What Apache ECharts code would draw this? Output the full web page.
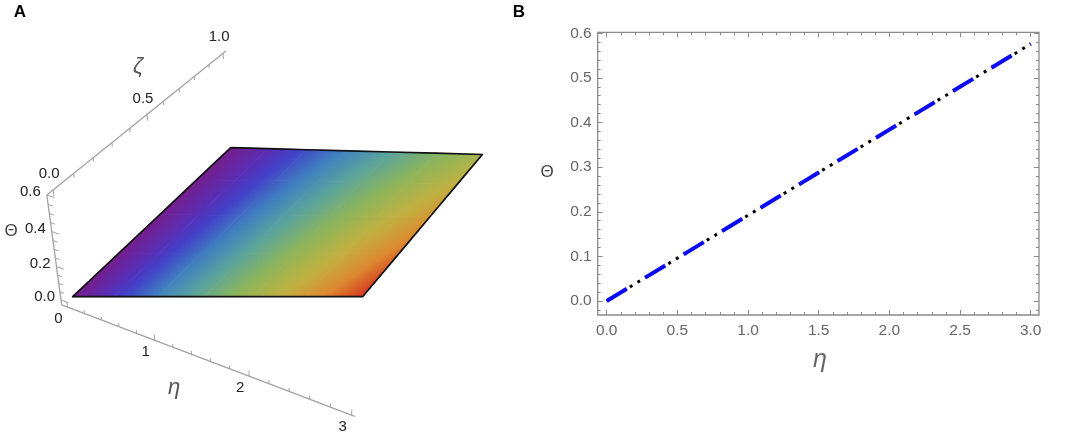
<!DOCTYPE html>
<html><head><meta charset="utf-8">
<script src="https://cdn.jsdelivr.net/npm/echarts@6/dist/echarts.min.js"></script>
<style>html,body{margin:0;padding:0;background:#fff}#c{width:1065px;height:437px}</style>
</head><body><div id="c"></div>
<script>
// ---------------- data ----------------
// Panel A: surface Θ(η, ζ)
const surfEta = [0, 0.5, 1, 1.5, 2, 2.5, 3];
const surfZeta = [0, 0.25, 0.5, 0.75, 1];
const surfTheta = [
  [0, 0.096, 0.192, 0.288, 0.385, 0.481, 0.577],
  [0, 0.088, 0.177, 0.265, 0.354, 0.442, 0.530],
  [0, 0.081, 0.161, 0.242, 0.322, 0.403, 0.484],
  [0, 0.073, 0.146, 0.218, 0.291, 0.364, 0.437],
  [0, 0.065, 0.130, 0.195, 0.260, 0.325, 0.390]
];
const etaTicks3D = [0, 1, 2, 3];
const zetaTicks3D = [0, 0.5, 1];
const thetaTicks3D = [0, 0.2, 0.4, 0.6];
// Panel B: Θ(η)
const lineEta = [0, 0.5, 1, 1.5, 2, 2.5, 3];
const lineTheta = [0, 0.096, 0.192, 0.288, 0.384, 0.480, 0.576];
const xTicksB = [0, 0.5, 1, 1.5, 2, 2.5, 3];
const xMinorB = [0.1, 0.2, 0.3, 0.4, 0.6, 0.7, 0.8, 0.9, 1.1, 1.2, 1.3, 1.4, 1.6, 1.7, 1.8, 1.9, 2.1, 2.2, 2.3, 2.4, 2.6, 2.7, 2.8, 2.9];
const yTicksB = [0, 0.1, 0.2, 0.3, 0.4, 0.5, 0.6];
const yMinorB = [-0.02, 0.02, 0.04, 0.06, 0.08, 0.12, 0.14, 0.16, 0.18, 0.22, 0.24, 0.26, 0.28, 0.32, 0.34, 0.36, 0.38, 0.42, 0.44, 0.46, 0.48, 0.52, 0.54, 0.56, 0.58];

// ---------------- view / style ----------------
const FONT = "'Liberation Sans', Arial, sans-serif";
const VIEW = { o: [72.7, 296.7], ex: [81, 20.1], ey: [208.5, -116.7], ez: [-28.5, -194.8], w: [-0.038, 0.219, -0.106] };
const BOX = { eta: [-0.07, 3.03], zeta: [-0.03, 1.02], theta: [-0.03, 0.6] };
const AXIS_COLOR = '#a2a2a2';
const RAINBOW = [[0, '#751E8C'], [0.12, '#5A2DB4'], [0.2, '#4240C8'], [0.32, '#4080C0'], [0.45, '#5BA49C'], [0.6, '#8DB55A'], [0.75, '#C1B140'], [0.88, '#DC8A30'], [1, '#D4361F']];

function proj(e, z, t) {
  const w = 1 + VIEW.w[0] * e + VIEW.w[1] * z + VIEW.w[2] * t;
  return [(VIEW.o[0] + e * VIEW.ex[0] + z * VIEW.ey[0] + t * VIEW.ez[0]) / w,
          (VIEW.o[1] + e * VIEW.ex[1] + z * VIEW.ey[1] + t * VIEW.ez[1]) / w];
}
function hex(c) { return [parseInt(c.slice(1, 3), 16), parseInt(c.slice(3, 5), 16), parseInt(c.slice(5, 7), 16)]; }
function rainbow(v) {
  v = Math.max(0, Math.min(1, v));
  for (let k = 1; k < RAINBOW.length; k++) {
    if (v <= RAINBOW[k][0]) {
      const a = RAINBOW[k - 1], b = RAINBOW[k];
      const f = (v - a[0]) / (b[0] - a[0]);
      const ca = hex(a[1]), cb = hex(b[1]);
      return 'rgb(' + ca.map((x, i) => Math.round(x + (cb[i] - x) * f)).join(',') + ')';
    }
  }
  return RAINBOW[RAINBOW.length - 1][1];
}
const thetaMax = Math.max(...surfTheta.map(r => Math.max(...r)));
const nEta = surfEta.length, nZeta = surfZeta.length;
const cells = [];
for (let j = 0; j < nZeta - 1; j++) for (let i = 0; i < nEta - 1; i++) cells.push([i, j]);

function renderCell(params, api) {
  const i = api.value(0), j = api.value(1);
  const corners = [[i, j], [i + 1, j], [i + 1, j + 1], [i, j + 1]];
  const pts = corners.map(([a, b]) => api.coord(proj(surfEta[a], surfZeta[b], surfTheta[b][a])));
  const vals = corners.map(([a, b]) => surfTheta[b][a] / thetaMax);
  const xm = pts.reduce((s, p) => s + p[0], 0) / 4, ym = pts.reduce((s, p) => s + p[1], 0) / 4;
  const vm = vals.reduce((s, v) => s + v, 0) / 4;
  let sxx = 0, sxy = 0, syy = 0, sxv = 0, syv = 0;
  pts.forEach((p, k) => {
    const dx = p[0] - xm, dy = p[1] - ym, dv = vals[k] - vm;
    sxx += dx * dx; sxy += dx * dy; syy += dy * dy; sxv += dx * dv; syv += dy * dv;
  });
  const det = sxx * syy - sxy * sxy;
  const al = (sxv * syy - syv * sxy) / det, be = (syv * sxx - sxv * sxy) / det;
  const g2 = al * al + be * be;
  const vmin = Math.min(...vals), vmax = Math.max(...vals);
  let fill;
  if (!(g2 > 1e-12) || vmax - vmin < 1e-9) {
    fill = rainbow(vm);
  } else {
    const ax = xm + al * (vmin - vm) / g2, ay = ym + be * (vmin - vm) / g2;
    const bx = xm + al * (vmax - vm) / g2, by = ym + be * (vmax - vm) / g2;
    const stops = [0, 1, 2, 3, 4, 5, 6].map(k => ({ offset: k / 6, color: rainbow(vmin + (vmax - vmin) * k / 6) }));
    fill = new echarts.graphic.LinearGradient(ax, ay, bx, by, stops, true);
  }
  return { type: 'polygon', shape: { points: pts }, style: { fill: fill, stroke: fill, lineWidth: 0.9 } };
}

function renderOutline(params, api) {
  const pts = [];
  for (let i = 0; i < nEta; i++) pts.push([i, 0]);
  for (let j = 1; j < nZeta; j++) pts.push([nEta - 1, j]);
  for (let i = nEta - 2; i >= 0; i--) pts.push([i, nZeta - 1]);
  for (let j = nZeta - 2; j > 0; j--) pts.push([0, j]);
  const pp = pts.map(([a, b]) => api.coord(proj(surfEta[a], surfZeta[b], surfTheta[b][a])));
  return { type: 'polygon', shape: { points: pp }, style: { fill: 'none', stroke: '#111', lineWidth: 1.7, lineJoin: 'round' } };
}

function renderAxes(params, api) {
  const C = p => api.coord(p);
  const kids = [];
  const ln = (p, q, lw) => kids.push({ type: 'line', shape: { x1: p[0], y1: p[1], x2: q[0], y2: q[1] }, style: { stroke: AXIS_COLOR, lineWidth: lw || 1.3 } });
  const txt = (p, s, align, dx, dy) => kids.push({ type: 'text', style: {
    text: s, x: p[0] + dx, y: p[1] + dy, fill: '#222', font: '15px ' + FONT,
    align: align, verticalAlign: 'middle', textAlign: align, textVerticalAlign: 'middle' } });
  const e0 = BOX.eta[0], z0 = BOX.zeta[0], t0 = BOX.theta[0], tt = BOX.theta[1];
  // η axis
  ln(C(proj(e0, z0, t0)), C(proj(BOX.eta[1], z0, t0)));
  for (let k = 0; k <= 15; k++) {
    const e = k * 0.2, L = k % 5 === 0 ? 0.032 : 0.02;
    ln(C(proj(e, z0, t0)), C(proj(e, z0, t0 + L)), 1);
  }
  etaTicks3D.forEach(v => txt(C(proj(v, z0, t0)), String(v), 'center', -9, 12));
  // Θ axis
  ln(C(proj(e0, z0, t0)), C(proj(e0, z0, tt)));
  for (let k = 0; k <= 12; k++) {
    const t = k * 0.05, L = k % 4 === 0 ? 0.085 : 0.05;
    ln(C(proj(e0, z0, t)), C(proj(e0 + L, z0, t)), 1);
  }
  thetaTicks3D.forEach(v => txt(C(proj(e0, z0, v)), v.toFixed(1), 'right', -6, -3));
  // ζ axis
  ln(C(proj(e0, z0, tt)), C(proj(e0, BOX.zeta[1], tt)));
  for (let k = 0; k <= 10; k++) {
    const z = k * 0.1, L = k % 5 === 0 ? 0.035 : 0.022;
    ln(C(proj(e0, z, tt)), C(proj(e0, z, tt - L)), 1);
  }
  zetaTicks3D.forEach(v => txt(C(proj(e0, v, tt)), v.toFixed(1), 'center', -4, -16));
  return { type: 'group', children: kids };
}

const chart = echarts.init(document.getElementById('c'), null, { renderer: 'canvas' });
const tickStyle = { color: '#8a8a8a', width: 1 };
const gText = (x, y, text, font, fill) => ({ type: 'text', style: { text, x, y, font, fill, textAlign: 'center', textVerticalAlign: 'middle', align: 'center', verticalAlign: 'middle' } });

const X_RANGE = [-0.0637, 3.0587], Y_RANGE = [-0.0314, 0.6022];
function frameAxis(kind, position, ticks, len, labels) {
  const range = kind === 'x' ? X_RANGE : Y_RANGE;
  return {
    gridIndex: 1, type: 'value', min: range[0], max: range[1], position: position,
    axisLine: { show: false, onZero: false }, splitLine: { show: false },
    axisTick: { show: true, inside: true, length: len, lineStyle: tickStyle, customValues: ticks },
    axisLabel: labels ? { show: true, color: '#666', fontSize: 15.5, fontFamily: FONT, margin: kind === 'x' ? 8 : 6,
      customValues: ticks, formatter: v => v.toFixed(1) } : { show: false }
  };
}

chart.setOption({
  animation: false,
  backgroundColor: '#fff',
  grid: [
    { left: 0, top: 0, width: 520, height: 437 },
    { left: 597.7, top: 32.3, width: 441.3, height: 282.7, show: true, borderColor: '#8a8a8a', borderWidth: 1.3, backgroundColor: 'transparent' }
  ],
  xAxis: [
    { gridIndex: 0, type: 'value', min: 0, max: 520, show: false },
    frameAxis('x', 'bottom', xTicksB, 5, true),
    frameAxis('x', 'bottom', xMinorB, 3, false),
    frameAxis('x', 'top', xTicksB, 5, false),
    frameAxis('x', 'top', xMinorB, 3, false)
  ],
  yAxis: [
    { gridIndex: 0, type: 'value', min: 0, max: 437, inverse: true, show: false },
    frameAxis('y', 'left', yTicksB, 5, true),
    frameAxis('y', 'left', yMinorB, 3, false),
    frameAxis('y', 'right', yTicksB, 5, false),
    frameAxis('y', 'right', yMinorB, 3, false)
  ],
  graphic: [
    gText(20, 12, 'A', 'bold 17px ' + FONT, '#000'),
    gText(519, 12, 'B', 'bold 17px ' + FONT, '#000'),
    gText(138, 67, 'ζ', 'italic 22px ' + FONT, '#555'),
    gText(174, 388, 'η', 'italic 22px ' + FONT, '#555'),
    gText(11, 231, 'Θ', '17px ' + FONT, '#444'),
    gText(547, 172, 'Θ', '17px ' + FONT, '#444'),
    gText(820, 360, 'η', 'italic 25px ' + FONT, '#666')
  ],
  series: [
    { type: 'custom', name: 'axes3d', xAxisIndex: 0, yAxisIndex: 0, clip: false, silent: true, z: 1,
      data: [[0, 0]], renderItem: renderAxes },
    { type: 'custom', name: 'surface', xAxisIndex: 0, yAxisIndex: 0, clip: false, silent: true, z: 2,
      data: cells, renderItem: renderCell },
    { type: 'custom', name: 'outline', xAxisIndex: 0, yAxisIndex: 0, clip: false, silent: true, z: 3,
      data: [[0, 0]], renderItem: renderOutline },
    { type: 'line', name: 'dots', xAxisIndex: 1, yAxisIndex: 1, symbol: 'none', silent: true, z: 4,
      data: lineEta.map((e, k) => [e, lineTheta[k]]),
      lineStyle: { color: '#000', width: 3, type: [3, 6], cap: 'butt' } },
    { type: 'line', name: 'Θ', xAxisIndex: 1, yAxisIndex: 1, symbol: 'none', silent: true, z: 5,
      data: lineEta.map((e, k) => [e, lineTheta[k]]),
      lineStyle: { color: '#0a0af5', width: 4, type: [23.5, 21.5], cap: 'butt' } }
  ]
});
</script>
</body></html>
